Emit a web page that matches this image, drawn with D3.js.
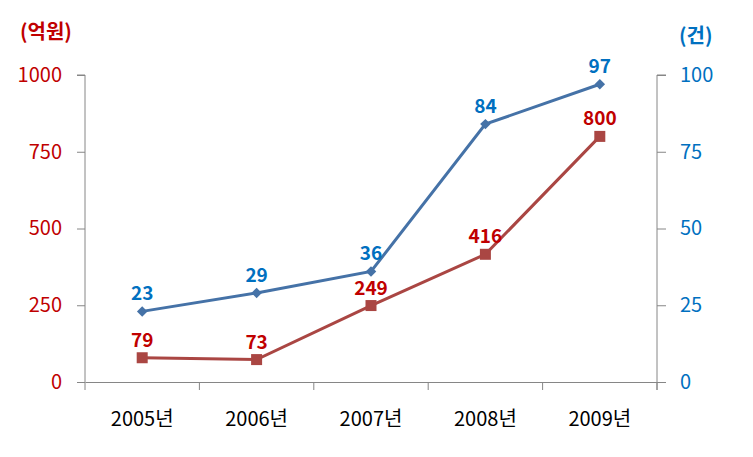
<!DOCTYPE html>
<meta charset="utf-8">
<script src="https://d3js.org/d3.v7.min.js"></script>
<style>
	body { margin: 0; background: #fff; }
	text { font-family: "Noto Sans CJK KR", "Noto Sans", sans-serif; }
</style>
<div id="chart"></div>
<script>
	// Data
	var years = ["2005년", "2006년", "2007년", "2008년", "2009년"];
	var amount = [79, 73, 249, 416, 800];   // 억원, left axis
	var counts = [23, 29, 36, 84, 97];      // 건, right axis
	var leftTicks = [0, 250, 500, 750, 1000];
	var rightTicks = [0, 25, 50, 75, 100];

	var width = 753, height = 457;
	var plotL = 85, plotR = 657, plotT = 75, plotB = 382;
	var red = "#C00000", blue = "#0070C0";
	var redLine = "#AA4643", blueLine = "#4572A7";
	var axisGray = "#868686";

	var svg = d3.select("#chart").append("svg")
		.attr("width", width)
		.attr("height", height);

	var x = d3.scaleBand().domain(years).range([plotL, plotR]);
	var yL = d3.scaleLinear().domain([0, 1000]).range([plotB, plotT]);
	var yR = d3.scaleLinear().domain([0, 100]).range([plotB, plotT]);
	var cx = (d) => x(d) + x.bandwidth() / 2;

	// Left axis
	var gL = svg.append("g")
		.attr("transform", "translate(" + plotL + ",0)")
		.call(d3.axisLeft(yL).tickValues(leftTicks).tickFormat(d3.format("d")).tickSize(8).tickPadding(15));
	gL.selectAll("text").attr("fill", red).style("font-size", "20px");

	// Right axis
	var gR = svg.append("g")
		.attr("transform", "translate(" + plotR + ",0)")
		.call(d3.axisRight(yR).tickValues(rightTicks).tickSize(9).tickPadding(14));
	gR.selectAll("text").attr("fill", blue).style("font-size", "20px");

	// Bottom axis, ticks at category boundaries
	var gB = svg.append("g")
		.attr("transform", "translate(0," + plotB + ")")
		.call(d3.axisBottom(x).tickSize(0).tickPadding(30));
	gB.selectAll("text").attr("fill", "#000").style("font-size", "20px");
	var bounds = years.map((d) => x(d)).concat([plotR]);
	gB.selectAll(".bound").data(bounds).enter().append("line")
		.attr("x1", (d) => d).attr("x2", (d) => d)
		.attr("y1", 0).attr("y2", 8)
		.attr("stroke", axisGray);

	svg.selectAll(".domain").attr("stroke", axisGray);
	svg.selectAll(".tick line").attr("stroke", axisGray);
	gR.select(".domain").attr("d", "M9," + plotT + "H0V" + (plotB + 8));
	gL.select(".domain").attr("d", "M-8," + plotT + "H0V" + plotB);

	// Unit titles
	svg.append("text").attr("x", 20).attr("y", 39)
		.attr("fill", red).style("font-size", "20px").style("font-weight", "bold")
		.text("(억원)");
	svg.append("text").attr("x", 679).attr("y", 43)
		.attr("fill", blue).style("font-size", "20px").style("font-weight", "bold")
		.text("(건)");

	// Blue line: counts
	svg.append("path")
		.datum(counts)
		.attr("fill", "none")
		.attr("stroke", blueLine)
		.attr("stroke-width", 3)
		.attr("d", d3.line().x((d, i) => cx(years[i])).y((d) => yR(d)));
	svg.selectAll(".dia").data(counts).enter().append("path")
		.attr("transform", (d, i) => "translate(" + cx(years[i]) + "," + yR(d) + ")")
		.attr("d", d3.symbol().type(d3.symbolDiamond2).size(70))
		.attr("fill", blueLine);

	// Red line: amount
	svg.append("path")
		.datum(amount)
		.attr("fill", "none")
		.attr("stroke", redLine)
		.attr("stroke-width", 3)
		.attr("d", d3.line().x((d, i) => cx(years[i])).y((d) => yL(d)));
	svg.selectAll(".sq").data(amount).enter().append("rect")
		.attr("x", (d, i) => cx(years[i]) - 5.5)
		.attr("y", (d) => yL(d) - 5.5)
		.attr("width", 11).attr("height", 11)
		.attr("fill", redLine);

	// Data labels
	svg.selectAll(".lb").data(counts).enter().append("text")
		.attr("x", (d, i) => cx(years[i]))
		.attr("y", (d) => yR(d) - 11)
		.attr("text-anchor", "middle")
		.attr("fill", blue).style("font-size", "19px").style("font-weight", "bold")
		.text((d) => d);
	svg.selectAll(".lr").data(amount).enter().append("text")
		.attr("x", (d, i) => cx(years[i]))
		.attr("y", (d) => yL(d) - 11)
		.attr("text-anchor", "middle")
		.attr("fill", red).style("font-size", "19px").style("font-weight", "bold")
		.text((d) => d);
</script>
